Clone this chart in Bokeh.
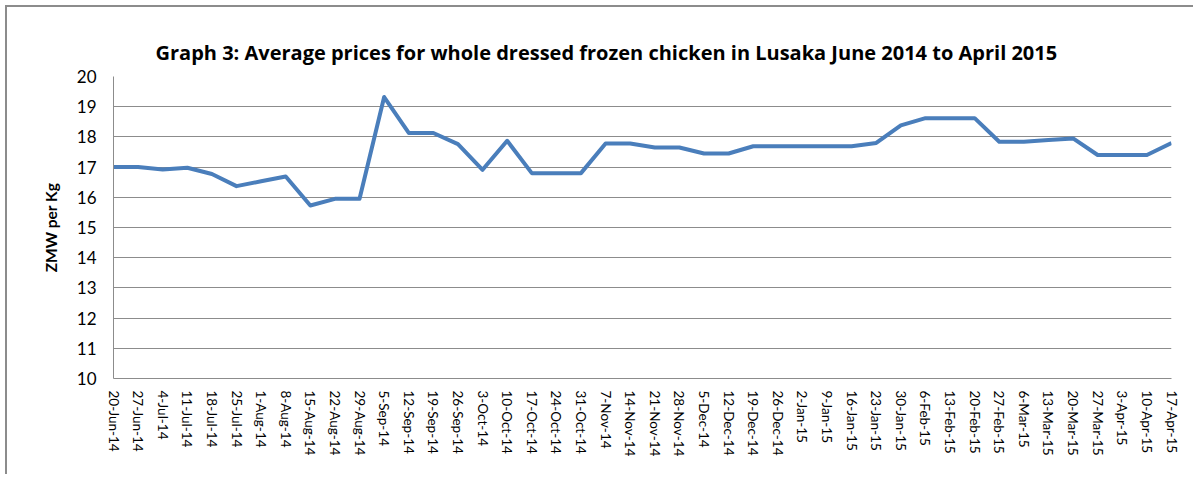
from bokeh.plotting import figure
from bokeh.models import Range1d, FixedTicker, ColumnDataSource
from bokeh.embed import file_html
from bokeh.resources import INLINE

dates = ["20-Jun-14", "27-Jun-14", "4-Jul-14", "11-Jul-14", "18-Jul-14", "25-Jul-14",
         "1-Aug-14", "8-Aug-14", "15-Aug-14", "22-Aug-14", "29-Aug-14", "5-Sep-14",
         "12-Sep-14", "19-Sep-14", "26-Sep-14", "3-Oct-14", "10-Oct-14", "17-Oct-14",
         "24-Oct-14", "31-Oct-14", "7-Nov-14", "14-Nov-14", "21-Nov-14", "28-Nov-14",
         "5-Dec-14", "12-Dec-14", "19-Dec-14", "26-Dec-14", "2-Jan-15", "9-Jan-15",
         "16-Jan-15", "23-Jan-15", "30-Jan-15", "6-Feb-15", "13-Feb-15", "20-Feb-15",
         "27-Feb-15", "6-Mar-15", "13-Mar-15", "20-Mar-15", "27-Mar-15", "3-Apr-15",
         "10-Apr-15", "17-Apr-15"]

prices = [17.0, 17.0, 16.92, 16.98, 16.77, 16.37,
          16.53, 16.69, 15.73, 15.95, 15.95, 19.32,
          18.13, 18.13, 17.76, 16.91, 17.87, 16.8,
          16.8, 16.8, 17.78, 17.78, 17.65, 17.65,
          17.45, 17.45, 17.69, 17.69, 17.69, 17.69,
          17.69, 17.8, 18.38, 18.62, 18.62, 18.62,
          17.84, 17.84, 17.9, 17.95, 17.4, 17.4,
          17.4, 17.8]

y_ticks = [10, 11, 12, 13, 14, 15, 16, 17, 18, 19, 20]

idx = list(range(len(dates)))
src = ColumnDataSource(data=dict(x=idx, y=prices))

FONT = "Lato"
GRID = "#8c8c8c"

p = figure(width=1188, height=469, output_backend="svg", toolbar_location=None,
           x_range=Range1d(0, len(dates) - 1), y_range=Range1d(y_ticks[0], y_ticks[-1]),
           title="Graph 3: Average prices for whole dressed frozen chicken in Lusaka June 2014 to April 2015",
           min_border_left=106, min_border_right=24, min_border_top=69, min_border_bottom=98,
           styles={"margin-left": "5px", "margin-top": "5px",
                   "border-left": "2px solid #8c8c8c", "border-top": "2px solid #8c8c8c"})

p.title.text_font = "Open Sans"
p.title.text_font_size = "20px"
p.title.text_font_style = "bold"
p.title.text_color = "#000000"
p.title.align = "left"
p.title.offset = 42
p.title.vertical_align = "top"
p.title.standoff = 18

p.line("x", "y", source=src, line_color="#4a7ebb", line_width=4, line_join="round")

# y axis
p.yaxis.ticker = FixedTicker(ticks=y_ticks)
p.yaxis.axis_label = "ZMW per Kg"
p.yaxis.axis_label_text_font = FONT
p.yaxis.axis_label_text_font_size = "15.5px"
p.yaxis.axis_label_text_font_style = "bold"
p.yaxis.axis_label_text_color = "#000000"
p.yaxis.axis_label_standoff = 14
p.yaxis.major_label_text_font = FONT
p.yaxis.major_label_text_font_size = "17px"
p.yaxis.major_label_text_color = "#000000"
p.yaxis.major_label_standoff = 17
p.yaxis.major_tick_out = 0
p.yaxis.major_tick_in = 0
p.yaxis.minor_tick_out = 0
p.yaxis.minor_tick_in = 0
p.yaxis.axis_line_color = GRID

# x axis
p.xaxis.ticker = FixedTicker(ticks=idx)
p.xaxis.major_label_overrides = {i: d for i, d in zip(idx, dates)}
p.xaxis.major_label_orientation = "vertical"
p.xaxis.major_label_text_font = FONT
p.xaxis.major_label_text_font_size = "13.5px"
p.xaxis.major_label_text_color = "#000000"
p.xaxis.major_label_standoff = 12
p.xaxis.major_tick_out = 0
p.xaxis.major_tick_in = 0
p.xaxis.minor_tick_out = 0
p.xaxis.minor_tick_in = 0
p.xaxis.axis_line_color = GRID

p.xgrid.grid_line_color = None
p.ygrid.grid_line_color = GRID
p.ygrid.grid_line_width = 1
p.outline_line_color = None

open("out.html", "w").write(file_html(p, INLINE))
